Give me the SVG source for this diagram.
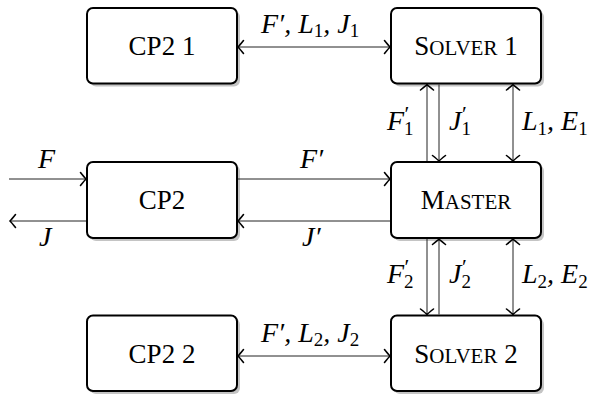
<svg xmlns="http://www.w3.org/2000/svg" width="595" height="399" viewBox="0 0 595 399">
<style>
.box{fill:#fff;stroke:#000;stroke-width:2}
.sh{fill:#c4c4c4;stroke:none}
.t{font-family:"Liberation Serif","Times New Roman",serif;font-size:27px;fill:#000;text-anchor:middle}
.m{font-family:"Liberation Serif","Times New Roman",serif;font-size:28px;font-style:italic;fill:#000}
.s{font-size:19px;font-style:normal}
.p{font-size:22px;font-style:normal}
.c{fill:none;stroke:#222;stroke-width:1}
</style>
<defs>
<marker id="ah" viewBox="-8 -8 10 16" refX="0" refY="0" markerWidth="10" markerHeight="16" markerUnits="userSpaceOnUse" orient="auto-start-reverse">
<path d="M-5.5,-6.5 Q-1.5,-1.5 0,0 Q-1.5,1.5 -5.5,6.5" fill="none" stroke="#000" stroke-width="1.6" stroke-linecap="round"/>
</marker>
</defs>
<g id="cp21"><rect class="sh" x="90" y="11" width="150" height="75.5" rx="6"/><rect class="box" x="87" y="8" width="150" height="75.5" rx="6"/><text class="t" x="162" y="55">CP2 1</text></g>
<g id="solver1"><rect class="sh" x="394" y="11" width="150" height="75.5" rx="6"/><rect class="box" x="391" y="8" width="150" height="75.5" rx="6"/><text class="t" x="466" y="55">S<tspan font-size="21">OLVER</tspan> 1</text></g>
<g id="cp2"><rect class="sh" x="90" y="165" width="150" height="76" rx="6"/><rect class="box" x="87" y="162" width="150" height="76" rx="6"/><text class="t" x="162" y="209">CP2</text></g>
<g id="master"><rect class="sh" x="394" y="165" width="150" height="76" rx="6"/><rect class="box" x="391" y="162" width="150" height="76" rx="6"/><text class="t" x="466" y="209">M<tspan font-size="21">ASTER</tspan></text></g>
<g id="cp22"><rect class="sh" x="90" y="318.5" width="150" height="75.5" rx="6"/><rect class="box" x="87" y="315.5" width="150" height="75.5" rx="6"/><text class="t" x="162" y="363">CP2 2</text></g>
<g id="solver2"><rect class="sh" x="394" y="318.5" width="150" height="75.5" rx="6"/><rect class="box" x="391" y="315.5" width="150" height="75.5" rx="6"/><text class="t" x="466" y="363">S<tspan font-size="21">OLVER</tspan> 2</text></g>
<g id="connectors">
<line class="c" x1="238" y1="47" x2="390" y2="47" marker-start="url(#ah)" marker-end="url(#ah)"/>
<line class="c" x1="238" y1="356" x2="390" y2="356" marker-start="url(#ah)" marker-end="url(#ah)"/>
<line class="c" x1="9" y1="179" x2="86" y2="179" marker-end="url(#ah)"/>
<line class="c" x1="86" y1="221" x2="10" y2="221" marker-end="url(#ah)"/>
<line class="c" x1="238" y1="179" x2="390" y2="179" marker-end="url(#ah)"/>
<line class="c" x1="390" y1="221" x2="238" y2="221" marker-end="url(#ah)"/>
<line class="c" x1="427" y1="161" x2="427" y2="84.5" marker-end="url(#ah)"/>
<line class="c" x1="439" y1="84.5" x2="439" y2="161" marker-end="url(#ah)"/>
<line class="c" x1="513" y1="84.5" x2="513" y2="161" marker-start="url(#ah)" marker-end="url(#ah)"/>
<line class="c" x1="427" y1="239" x2="427" y2="314.5" marker-end="url(#ah)"/>
<line class="c" x1="439" y1="314.5" x2="439" y2="239" marker-end="url(#ah)"/>
<line class="c" x1="513" y1="239" x2="513" y2="314.5" marker-start="url(#ah)" marker-end="url(#ah)"/>
<text class="m" x="261" y="33">F′, L<tspan class="s" dy="4">1</tspan><tspan dy="-4">, J</tspan><tspan class="s" dy="4">1</tspan></text>
<text class="m" x="261" y="342">F′, L<tspan class="s" dy="4">2</tspan><tspan dy="-4">, J</tspan><tspan class="s" dy="4">2</tspan></text>
<text class="m" x="38" y="168">F</text>
<text class="m" x="39" y="246">J</text>
<text class="m" x="300" y="168">F′</text>
<text class="m" x="302" y="246">J′</text>
<text class="m" x="387" y="130">F<tspan class="s" dy="5">1</tspan><tspan class="p" dx="-9" dy="-14">′</tspan></text>
<text class="m" x="449" y="130">J<tspan class="s" dy="5">1</tspan><tspan class="p" dx="-9" dy="-14">′</tspan></text>
<text class="m" x="522" y="130">L<tspan class="s" dy="5">1</tspan><tspan dy="-5">, E</tspan><tspan class="s" dy="5">1</tspan></text>
<text class="m" x="387" y="283">F<tspan class="s" dy="5">2</tspan><tspan class="p" dx="-9" dy="-14">′</tspan></text>
<text class="m" x="449" y="283">J<tspan class="s" dy="5">2</tspan><tspan class="p" dx="-9" dy="-14">′</tspan></text>
<text class="m" x="522" y="283">L<tspan class="s" dy="5">2</tspan><tspan dy="-5">, E</tspan><tspan class="s" dy="5">2</tspan></text>
</g>
</svg>
